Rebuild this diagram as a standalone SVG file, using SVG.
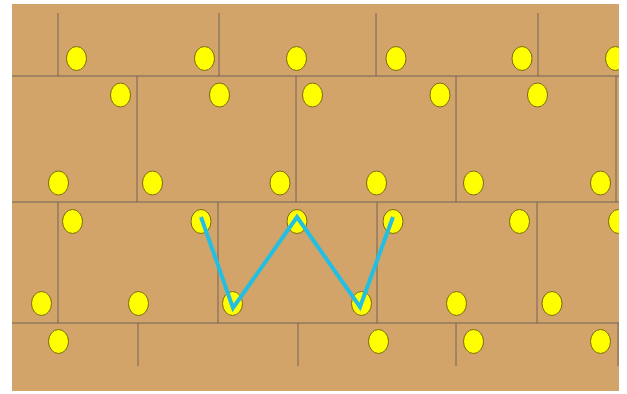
<svg xmlns="http://www.w3.org/2000/svg" width="627" height="394" viewBox="0 0 627 394">
<style>
.g{stroke:#6e6458;stroke-width:1;fill:none}
.d{fill:#ffff00;stroke:#7a6a10;stroke-width:1}
.w{fill:none;stroke:#22bfe3;stroke-width:4;stroke-linejoin:miter;stroke-linecap:butt}
</style>
<rect x="0" y="0" width="627" height="394" fill="#ffffff"/>
<rect x="12" y="4" width="607" height="387" fill="#d3a46a"/>
<defs><clipPath id="c"><rect x="12" y="4" width="607" height="387"/></clipPath></defs>
<g id="grid" class="g">
<line x1="12" y1="76" x2="619" y2="76"/>
<line x1="12" y1="202" x2="619" y2="202"/>
<line x1="12" y1="323" x2="619" y2="323"/>
<line x1="58" y1="13" x2="58" y2="76"/>
<line x1="219" y1="13" x2="219" y2="76"/>
<line x1="376" y1="13" x2="376" y2="76"/>
<line x1="538" y1="13" x2="538" y2="76"/>
<line x1="137" y1="76" x2="137" y2="202"/>
<line x1="296" y1="76" x2="296" y2="202"/>
<line x1="456" y1="76" x2="456" y2="202"/>
<line x1="616" y1="76" x2="616" y2="202"/>
<line x1="58" y1="202" x2="58" y2="323"/>
<line x1="218" y1="202" x2="218" y2="323"/>
<line x1="377" y1="202" x2="377" y2="323"/>
<line x1="537" y1="202" x2="537" y2="323"/>
<line x1="138" y1="323" x2="138" y2="366"/>
<line x1="298" y1="323" x2="298" y2="366"/>
<line x1="456" y1="323" x2="456" y2="366"/>
<line x1="618" y1="323" x2="618" y2="366"/>
</g>
<g id="dots" clip-path="url(#c)">
<ellipse class="d" cx="76.5" cy="58.5" rx="10" ry="12"/>
<ellipse class="d" cx="204.5" cy="58.5" rx="10" ry="12"/>
<ellipse class="d" cx="296.5" cy="58.5" rx="10" ry="12"/>
<ellipse class="d" cx="396" cy="58.5" rx="10" ry="12"/>
<ellipse class="d" cx="522" cy="58.5" rx="10" ry="12"/>
<ellipse class="d" cx="615.5" cy="58.5" rx="10" ry="12"/>
<ellipse class="d" cx="120.5" cy="95" rx="10" ry="12"/>
<ellipse class="d" cx="219.5" cy="95" rx="10" ry="12"/>
<ellipse class="d" cx="312.5" cy="95" rx="10" ry="12"/>
<ellipse class="d" cx="440" cy="95" rx="10" ry="12"/>
<ellipse class="d" cx="537.5" cy="95" rx="10" ry="12"/>
<ellipse class="d" cx="58.5" cy="183" rx="10" ry="12"/>
<ellipse class="d" cx="152.5" cy="183" rx="10" ry="12"/>
<ellipse class="d" cx="280" cy="183" rx="10" ry="12"/>
<ellipse class="d" cx="376.5" cy="183" rx="10" ry="12"/>
<ellipse class="d" cx="473.5" cy="183" rx="10" ry="12"/>
<ellipse class="d" cx="600.5" cy="183" rx="10" ry="12"/>
<ellipse class="d" cx="72.5" cy="221.5" rx="10" ry="12"/>
<ellipse class="d" cx="201" cy="221.5" rx="10" ry="12"/>
<ellipse class="d" cx="297" cy="221.5" rx="10" ry="12"/>
<ellipse class="d" cx="393" cy="221.5" rx="10" ry="12"/>
<ellipse class="d" cx="519.5" cy="221.5" rx="10" ry="12"/>
<ellipse class="d" cx="618.5" cy="221.5" rx="10" ry="12"/>
<ellipse class="d" cx="41.5" cy="303.5" rx="10" ry="12"/>
<ellipse class="d" cx="138.5" cy="303.5" rx="10" ry="12"/>
<ellipse class="d" cx="232.5" cy="303.5" rx="10" ry="12"/>
<ellipse class="d" cx="361.5" cy="303.5" rx="10" ry="12"/>
<ellipse class="d" cx="456.5" cy="303.5" rx="10" ry="12"/>
<ellipse class="d" cx="552" cy="303.5" rx="10" ry="12"/>
<ellipse class="d" cx="58.5" cy="341.5" rx="10" ry="12"/>
<ellipse class="d" cx="378.5" cy="341.5" rx="10" ry="12"/>
<ellipse class="d" cx="473.5" cy="341.5" rx="10" ry="12"/>
<ellipse class="d" cx="600.5" cy="341.5" rx="10" ry="12"/>
</g>
<g id="connectors">
<polyline class="w" points="201,217 233,308 297,217 360,307 393,217"/>
</g>
</svg>
